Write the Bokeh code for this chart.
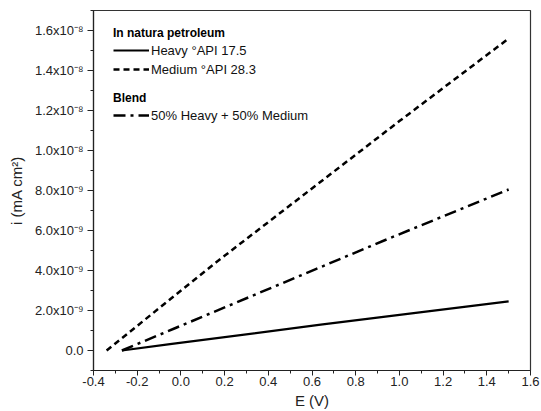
import numpy as np
from bokeh.plotting import figure
from bokeh.models import (FixedTicker, Legend, LegendItem, Range1d)
from bokeh.embed import file_html
from bokeh.resources import INLINE

# ---- data ----
E_heavy = [-0.27, -0.05, 0.64, 1.5]
i_heavy = [0.0, 0.32e-9, 1.29e-9, 2.46e-9]

E_medium = [-0.34, 0.16, 1.0, 1.5]
i_medium = [0.0, 4.4e-9, 11.47e-9, 15.6e-9]

E_blend = [-0.27, -0.03, 0.62, 0.93, 1.5]
i_blend = [0.0, 1.1e-9, 4.08e-9, 5.5e-9, 8.05e-9]

x_ticks = [-0.4, -0.2, 0.0, 0.2, 0.4, 0.6, 0.8, 1.0, 1.2, 1.4, 1.6]
x_minor = [-0.3, -0.1, 0.1, 0.3, 0.5, 0.7, 0.9, 1.1, 1.3, 1.5]
y_ticks = [0.0, 2e-9, 4e-9, 6e-9, 8e-9, 1e-8, 1.2e-8, 1.4e-8, 1.6e-8]
y_tick_labels = ["0.0", "2.0x10⁻⁹", "4.0x10⁻⁹", "6.0x10⁻⁹", "8.0x10⁻⁹",
                 "1.0x10⁻⁸", "1.2x10⁻⁸", "1.4x10⁻⁸", "1.6x10⁻⁸"]
y_minor = [-1e-9, 1e-9, 3e-9, 5e-9, 7e-9, 9e-9, 1.1e-8, 1.3e-8, 1.5e-8, 1.7e-8]

FONT = "Liberation Sans"

p = figure(width=541, height=411, output_backend="svg", toolbar_location=None,
           x_range=Range1d(-0.4, 1.6), y_range=Range1d(-1e-9, 1.7e-8),
           min_border_left=93, min_border_right=11, min_border_top=10, min_border_bottom=41)
p.grid.visible = False
p.outline_line_color = "#333333"
p.outline_line_width = 1.2
p.background_fill_color = "white"
p.border_fill_color = "white"

r_heavy = p.line(E_heavy, i_heavy, line_color="black", line_width=2.2)
r_medium = p.line(E_medium, i_medium, line_color="black", line_width=2.5, line_dash="6 4")
r_blend = p.line(E_blend, i_blend, line_color="black", line_width=2.5, line_dash="12 5 3 5")

# axes
p.xaxis.ticker = FixedTicker(ticks=x_ticks, minor_ticks=x_minor)
p.yaxis.ticker = FixedTicker(ticks=y_ticks, minor_ticks=y_minor)
p.yaxis.major_label_overrides = dict(zip(y_ticks, y_tick_labels))
p.xaxis.major_label_overrides = {t: f"{t:.1f}" for t in x_ticks}

for ax in (p.xaxis, p.yaxis):
    ax.axis_line_color = "#222222"
    ax.axis_line_width = 1.2
    ax.major_tick_line_color = "#222222"
    ax.minor_tick_line_color = "#222222"
    ax.major_tick_in = 0
    ax.major_tick_out = 6
    ax.minor_tick_in = 0
    ax.minor_tick_out = 3
    ax.major_label_text_font = FONT
    ax.major_label_text_font_size = "13px"
    ax.major_label_text_color = "#222222"
    ax.axis_label_text_font = FONT
    ax.axis_label_text_font_style = "normal"
    ax.axis_label_text_color = "#222222"

p.xaxis.major_tick_out = 5
p.xaxis.major_label_standoff = 1
p.xaxis.axis_label = "E (V)"
p.xaxis.axis_label_text_font_size = "15px"
p.xaxis.axis_label_standoff = 3

p.yaxis.axis_label = "i (mA cm²)"
p.yaxis.axis_label_text_font_size = "15px"
p.yaxis.axis_label_standoff = 7
p.yaxis.major_label_standoff = 4

def make_legend(title, items, loc):
    lg = Legend(items=items, location=loc, title=title,
                title_text_font=FONT, title_text_font_style="bold",
                title_text_font_size="12px", title_text_color="black",
                title_standoff=2,
                label_text_font=FONT, label_text_font_size="13px",
                label_text_color="#111111",
                glyph_width=36, glyph_height=16, label_height=16,
                label_standoff=2, spacing=3, padding=0, margin=0,
                background_fill_alpha=0, border_line_alpha=0)
    return lg

leg1 = make_legend("In natura petroleum",
                   [LegendItem(label="Heavy °API 17.5", renderers=[r_heavy]),
                    LegendItem(label="Medium °API 28.3", renderers=[r_medium])],
                   (20, 293))
leg2 = make_legend("Blend",
                   [LegendItem(label="50% Heavy + 50% Medium", renderers=[r_blend])],
                   (20, 247))
p.add_layout(leg1, "center")
p.add_layout(leg2, "center")

open("out.html", "w").write(file_html(p, INLINE))
